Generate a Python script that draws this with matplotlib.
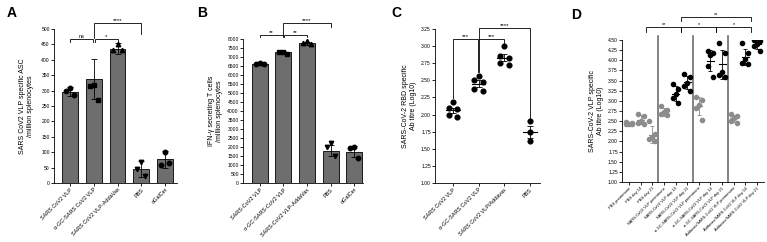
import matplotlib
matplotlib.use("Agg")
import matplotlib.pyplot as plt
import numpy as np

plt.rcParams['font.family'] = ['Liberation Sans', 'DejaVu Sans']

# ---------------- data ----------------
a_labels = ["SARS CoV2 VLP", "\u03b1-GC-SARS CoV2 VLP", "SARS CoV2 VLP-AddaVax", "PBS", "\u03b1GalCer"]
a_means = [296, 338, 436, 46, 77]
a_err = [15, 65, 18, 26, 27]
a_points = [[310, 300, 287], [318, 315, 268], [452, 432, 432], [68, 44, 24], [101, 60, 66]]

b_labels = ["SARS-CoV2 VLP", "\u03b1-GC-SARS-CoV2 VLP", "SARS-CoV2 VLP-AddaVax", "PBS", "\u03b1GalCer"]
b_means = [6600, 7250, 7760, 1800, 1750]
b_err = [50, 70, 100, 300, 330]
b_points = [[6650, 6600, 6600], [7300, 7250, 7160], [7900, 7750, 7730], [2200, 2010, 1490], [2010, 1920, 1410]]

c_labels = ["SARS CoV2 VLP", "\u03b1-GC-SARS CoV2 VLP", "SARS CoV2 VLP/Addavax", "PBS"]
c_points = [[2.18, 2.10, 2.08, 1.99, 1.96], [2.57, 2.51, 2.47, 2.37, 2.34],
            [3.00, 2.86, 2.82, 2.76, 2.73], [1.90, 1.74, 1.61]]
c_means = [2.06, 2.45, 2.83, 1.75]
c_sem = [0.04, 0.05, 0.05, 0.09]

d_labels = ["PBS preimmune", "PBS day 14", "PBS day 21",
            "SARS-CoV2 VLP preimmune", "SARS-CoV2 VLP day 14", "SARS-CoV2 VLP day 21",
            "\u03b1-GC-SARS-CoV2 VLP preimmune", "\u03b1-GC-SARS-CoV2 VLP day 14", "\u03b1-GC-SARS-CoV2 VLP day 21",
            "Addavax/SARS-CoV2 VLP preimmune", "Addavax/SARS-CoV2 VLP day 14", "Addavax/SARS-CoV2 VLP day 21"]
d_points = [[2.47, 2.45, 2.44, 2.43, 2.42], [2.68, 2.63, 2.50, 2.45, 2.43], [2.50, 2.18, 2.12, 2.05, 2.00],
            [2.88, 2.78, 2.72, 2.68, 2.65], [3.42, 3.28, 3.18, 3.08, 2.95], [3.67, 3.58, 3.45, 3.37, 3.25],
            [3.10, 3.02, 2.90, 2.82, 2.52], [4.22, 4.18, 4.12, 3.85, 3.60], [4.42, 4.18, 3.70, 3.64, 3.60],
            [2.68, 2.63, 2.58, 2.50, 2.45], [4.42, 4.18, 4.02, 3.93, 3.90], [4.50, 4.47, 4.40, 4.35, 4.22]]
d_means = [2.44, 2.54, 2.17, 2.72, 3.18, 3.46, 2.87, 3.99, 3.90, 2.57, 4.09, 4.39]
d_sd = [0.02, 0.11, 0.20, 0.10, 0.18, 0.16, 0.22, 0.26, 0.35, 0.09, 0.20, 0.11]
d_preimm = [True, True, True, True, False, False, True, False, False, True, False, False]

W, H = 767, 242
fig = plt.figure(figsize=(W / 100, H / 100), dpi=100)


def rect(L, R, T, B):
    return [L / W, (H - B) / H, (R - L) / W, (B - T) / H]


TICK_FS = 3.6
XT_FS = 4.0
LAB_FS = 5.0
LW = 0.6


def style(ax):
    for s in ['top', 'right']:
        ax.spines[s].set_visible(False)
    for s in ['left', 'bottom']:
        ax.spines[s].set_linewidth(LW)
    ax.tick_params(axis='both', width=LW, length=2, pad=1, labelsize=TICK_FS)
    ax.tick_params(axis='x', labelsize=XT_FS)


def bracket(ax, x1, x2, y, y1, y2, text, fs=4.5):
    ax.plot([x1, x1, x2, x2], [y1, y, y, y2], color='black', lw=LW, clip_on=False,
            solid_joinstyle='miter')
    ax.text((x1 + x2) / 2, y, text, ha='center', va='bottom', fontsize=fs, clip_on=False)


def set_xlabels(ax, labels):
    ax.set_xticks(range(len(labels)))
    ax.set_xticklabels(labels, rotation=45, ha='right', rotation_mode='anchor')


BAR_C = '#6e6e6e'
markers5 = ['o', 's', '^', 'v', 'o']
off3 = [0.0, -0.17, 0.17]

# ---------------- Panel A ----------------
axA = fig.add_axes(rect(54, 177, 29, 183))
xa = np.arange(len(a_labels))
axA.bar(xa, a_means, width=0.66, color=BAR_C, edgecolor='black', linewidth=LW, zorder=1)
axA.errorbar(xa, a_means, yerr=a_err, fmt='none', ecolor='black', elinewidth=LW,
             capsize=2, capthick=LW, zorder=3)
for i, pts in enumerate(a_points):
    axA.plot(xa[i] + np.array(off3[:len(pts)]), pts, ls='none', marker=markers5[i],
             ms=3.2, color='black', zorder=4)
axA.set_xlim(-0.67, 4.5)
axA.set_ylim(0, 500)
axA.set_yticks(np.arange(0, 501, 50))
set_xlabels(axA, a_labels)
axA.set_ylabel("SARS CoV2 VLP specific ASC\n/million splenocytes", fontsize=LAB_FS, labelpad=5)
style(axA)
bracket(axA, 0, 0.96, 467, 459, 459, "ns", fs=4)
bracket(axA, 1.04, 2, 467, 459, 459, "*")
bracket(axA, 1, 3, 520, 470, 485, "****")
fig.text(7 / W, 1 - 17 / H, "A", fontsize=10, fontweight='bold')

# ---------------- Panel B ----------------
axB = fig.add_axes(rect(243, 363, 39, 183))
xb = np.arange(len(b_labels))
axB.bar(xb, b_means, width=0.68, color=BAR_C, edgecolor='black', linewidth=LW, zorder=1)
axB.errorbar(xb, b_means, yerr=b_err, fmt='none', ecolor='black', elinewidth=LW,
             capsize=2, capthick=LW, zorder=3)
for i, pts in enumerate(b_points):
    axB.plot(xb[i] + np.array(off3[:len(pts)]), pts, ls='none', marker=markers5[i],
             ms=3.2, color='black', zorder=4)
axB.set_xlim(-0.72, 4.38)
axB.set_ylim(0, 8000)
axB.set_yticks(np.arange(0, 8001, 500))
set_xlabels(axB, b_labels)
axB.set_ylabel("IFN-\u03b3 secreting T cells\n/million splenocytes", fontsize=LAB_FS, labelpad=3)
style(axB)
bracket(axB, 0, 0.96, 8240, 8110, 8110, "**")
bracket(axB, 1.04, 2, 8240, 8110, 8110, "**")
bracket(axB, 1, 3, 8870, 8240, 8680, "****")
fig.text(197 / W, 1 - 17 / H, "B", fontsize=10, fontweight='bold')

# ---------------- Panel C ----------------
axC = fig.add_axes(rect(435, 540, 29, 183))
off5 = [0.0, -0.17, 0.17, -0.17, 0.17]
for i, pts in enumerate(c_points):
    offs = off5 if len(pts) == 5 else [0.0] * len(pts)
    axC.plot(i + np.array(offs), pts, ls='none', marker='o', ms=3.4, color='black', zorder=4)
    axC.plot([i - 0.27, i + 0.27], [c_means[i], c_means[i]], color='black', lw=0.8, zorder=3)
    axC.errorbar([i], [c_means[i]], yerr=[c_sem[i]], fmt='none', ecolor='black',
                 elinewidth=LW, capsize=2.5, capthick=LW, zorder=3)
axC.set_xlim(-0.7, 3.4)
axC.set_ylim(1.0, 3.25)
axC.set_yticks(np.arange(1.0, 3.251, 0.25))
axC.yaxis.set_major_formatter(matplotlib.ticker.FormatStrFormatter('%.2f'))
set_xlabels(axC, c_labels)
axC.set_ylabel("SARS-CoV-2 RBD specific\nAb titre (Log10)", fontsize=LAB_FS, labelpad=3)
style(axC)
bracket(axC, 0, 0.97, 3.10, 2.24, 2.62, "***")
bracket(axC, 1.03, 2, 3.10, 2.62, 3.05, "***")
bracket(axC, 1, 3, 3.27, 3.10, 1.95, "****")
fig.text(391 / W, 1 - 17 / H, "C", fontsize=10, fontweight='bold')

# ---------------- Panel D ----------------
axD = fig.add_axes(rect(622, 764, 40, 182))
offd = [-0.25, 0.25, 0.0, -0.25, 0.25]
for i, pts in enumerate(d_points):
    col = '#8c8c8c' if d_preimm[i] else 'black'
    axD.plot(i + np.array(offd[:len(pts)]), pts, ls='none', marker='o', ms=3.0, color=col, zorder=4)
    axD.plot([i - 0.3, i + 0.3], [d_means[i], d_means[i]], color=col, lw=0.8, zorder=3)
    axD.errorbar([i], [d_means[i]], yerr=[d_sd[i]], fmt='none', ecolor=col,
                 elinewidth=LW, capsize=1.5, capthick=LW, zorder=3)
for xv in [2.5, 5.5, 8.5]:
    axD.plot([xv, xv], [1.0, 4.6], color='#6e6e6e', lw=1.2, zorder=2, clip_on=False)
axD.set_xlim(-0.6, 11.6)
axD.set_ylim(1.0, 4.5)
axD.set_yticks(np.arange(1.0, 4.501, 0.25))
axD.yaxis.set_major_formatter(matplotlib.ticker.FormatStrFormatter('%.2f'))
set_xlabels(axD, d_labels)
axD.set_ylabel("SARS-CoV-2 VLP specific\nAb titre (Log10)", fontsize=LAB_FS, labelpad=3)
style(axD)
axD.tick_params(axis='x', labelsize=2.9)
bracket(axD, 1.5, 4.5, 4.82, 4.70, 4.70, "**", fs=4)
bracket(axD, 4.5, 7.5, 4.82, 4.70, 4.70, "*", fs=4)
bracket(axD, 7.5, 10.5, 4.82, 4.70, 4.70, "*", fs=4)
bracket(axD, 4.5, 10.5, 5.06, 4.96, 4.96, "**", fs=4)
fig.text(571 / W, 1 - 19 / H, "D", fontsize=10, fontweight='bold')

fig.savefig("out.png", dpi=100)
